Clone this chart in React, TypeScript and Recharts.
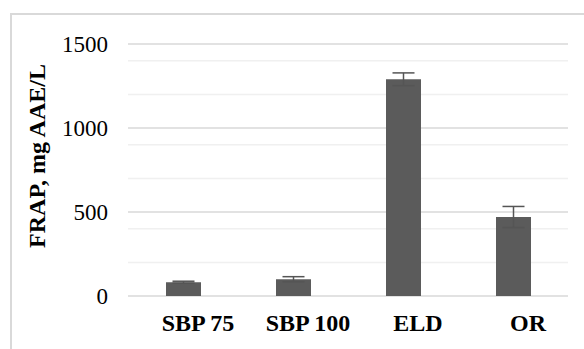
import React from 'react';
import { BarChart, Bar, XAxis, YAxis, CartesianGrid, ErrorBar } from 'recharts';

const categories = ['SBP 75', 'SBP 100', 'ELD', 'OR'];
const frapValues = [82, 100, 1290, 470];
const frapErrors = [6, 15, 38, 63];
const yTicks = [0, 500, 1000, 1500];
const minorGrid = [100, 200, 300, 400, 600, 700, 800, 900, 1100, 1200, 1300, 1400];
const majorGrid = [0, 500, 1000, 1500];

const data = categories.map((c, i) => ({ name: c, value: frapValues[i], err: frapErrors[i] }));

const FONT = 'Liberation Serif, Times New Roman, serif';

export default function App() {
  return (
    <div style={{ position: 'absolute', left: 0, top: 0, width: 584, height: 349, background: '#fff', overflow: 'hidden' }}>
      <div style={{ position: 'absolute', left: 10, top: 13, width: 600, height: 400, border: '2px solid #d9d9d9', boxSizing: 'border-box' }} />
      <div style={{ position: 'absolute', left: 0, top: 0 }}>
        <BarChart width={584} height={349} data={data} margin={{ top: 44, right: 16, bottom: 23, left: 0 }} barSize={35}>
          <CartesianGrid vertical={false} horizontalValues={minorGrid} stroke="#f0f0f0" strokeWidth={1.5} />
          <CartesianGrid vertical={false} horizontalValues={majorGrid} stroke="#d9d9d9" strokeWidth={1.5} />
          <XAxis
            dataKey="name"
            height={30}
            axisLine={false}
            tickLine={false}
            tickMargin={12}
            tick={{ fontFamily: FONT, fontSize: 24, fontWeight: 'bold', fill: '#000', dx: 15 }}
            interval={0}
          />
          <YAxis
            width={128}
            domain={[0, 1500]}
            ticks={yTicks}
            axisLine={false}
            tickLine={false}
            tickMargin={14}
            tick={{ fontFamily: FONT, fontSize: 23, fill: '#000' }}
            label={{
              value: 'FRAP, mg AAE/L',
              angle: -90,
              position: 'insideLeft',
              offset: 36,
              dy: -14,
              textAnchor: 'middle',
              style: { fontFamily: FONT, fontSize: 24, fontWeight: 'bold', fill: '#000', textAnchor: 'middle' },
            }}
          />
          <Bar dataKey="value" fill="#5b5b5b" isAnimationActive={false}>
            <ErrorBar dataKey="err" width={11} stroke="#555" strokeWidth={1.5} />
          </Bar>
        </BarChart>
      </div>
    </div>
  );
}
